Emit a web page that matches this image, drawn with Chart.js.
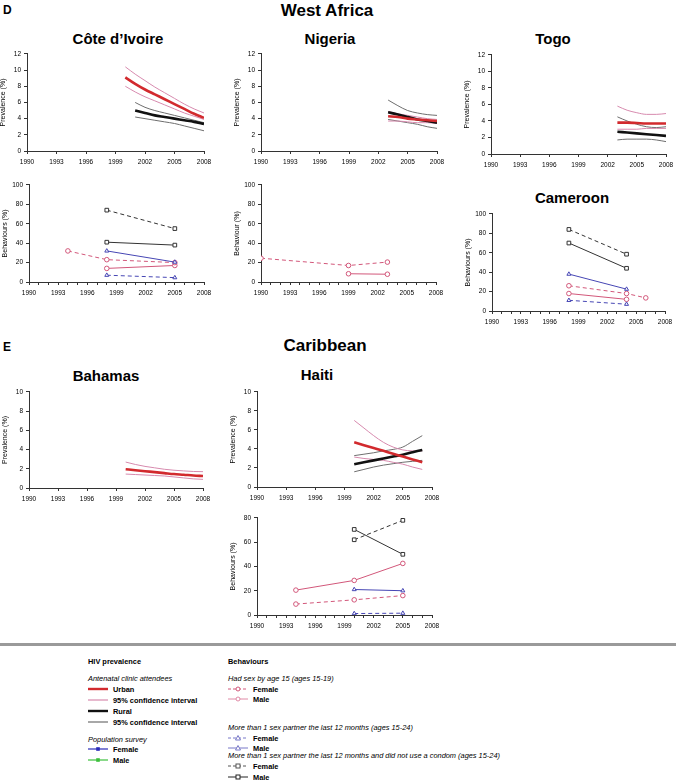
<!DOCTYPE html>
<html><head><meta charset="utf-8">
<script src="https://cdn.jsdelivr.net/npm/chart.js@4/dist/chart.umd.min.js"></script>
<style>
html,body{margin:0;padding:0;background:#fff;}
body{width:676px;height:781px;position:relative;overflow:hidden;font-family:"Liberation Sans",Arial,sans-serif;}
canvas{position:absolute;}
.t{position:absolute;font-weight:bold;color:#000;white-space:nowrap;transform:translate(-50%,-50%);line-height:1;}
.lt{position:absolute;font-weight:bold;color:#000;line-height:1;transform:translateY(-50%);}
svg{position:absolute;left:0;top:0;}
</style></head><body>
<div class="lt" style="left:3px;top:10px;font-size:12px;">D</div>
<div class="t" style="left:327px;top:10px;font-size:17px;">West Africa</div>
<div class="t" style="left:118px;top:38px;font-size:15px;">Côte d’Ivoire</div>
<div class="t" style="left:330px;top:38px;font-size:15px;">Nigeria</div>
<div class="t" style="left:553px;top:38px;font-size:15px;">Togo</div>
<div class="t" style="left:572px;top:197px;font-size:15px;">Cameroon</div>
<div class="lt" style="left:3px;top:347px;font-size:12px;">E</div>
<div class="t" style="left:325px;top:345px;font-size:17px;">Caribbean</div>
<div class="t" style="left:106px;top:375px;font-size:15px;">Bahamas</div>
<div class="t" style="left:317px;top:374px;font-size:15px;">Haiti</div>

<svg width="676" height="781" id="leg"></svg>

<script>
// ---------- DATA ----------
const xTicksMajor = [1990,1993,1996,1999,2002,2005,2008];
const xTicksYearly = [1990,1991,1992,1993,1994,1995,1996,1997,1998,1999,2000,2001,2002,2003,2004,2005,2006,2007,2008];

// Côte d'Ivoire prevalence
const civUrbanYears = [2000,2001,2002,2003,2004,2005,2006,2007,2008];
const civUrban   = [9.1,8.3,7.6,7.0,6.4,5.8,5.2,4.6,4.1];
const civUrbanHi = [10.4,9.5,8.7,7.9,7.2,6.5,5.8,5.2,4.7];
const civUrbanLo = [8.0,7.3,6.7,6.2,5.7,5.2,4.7,4.3,3.9];
const civRuralYears = [2001,2002,2003,2004,2005,2006,2007,2008];
const civRural   = [5.0,4.7,4.4,4.2,4.0,3.8,3.6,3.35];
const civRuralHi = [6.0,5.4,5.0,4.7,4.4,4.1,3.8,3.5];
const civRuralLo = [4.2,4.0,3.8,3.6,3.4,3.1,2.8,2.5];

// Nigeria prevalence
const ngaYears = [2003,2004,2005,2006,2007,2008];
const ngaUrban   = [4.3,4.2,4.0,3.9,3.8,3.7];
const ngaUrbanHi = [4.9,4.6,4.4,4.2,4.0,3.9];
const ngaUrbanLo = [3.7,3.7,3.6,3.5,3.5,3.4];
const ngaRural   = [4.8,4.5,4.2,3.9,3.7,3.5];
const ngaRuralHi = [6.3,5.6,5.0,4.7,4.5,4.4];
const ngaRuralLo = [3.9,3.7,3.5,3.3,3.0,2.8];

// Togo prevalence
const tgoYears = [2003,2004,2005,2006,2007,2008];
const tgoUrban   = [3.8,3.8,3.75,3.7,3.7,3.7];
const tgoUrbanHi = [5.8,5.3,5.0,4.8,4.8,4.9];
const tgoUrbanLo = [3.0,3.0,3.0,3.1,3.1,3.1];
const tgoRural   = [2.7,2.6,2.5,2.4,2.3,2.2];
const tgoRuralHi = [4.5,4.0,3.6,3.3,3.2,3.3];
const tgoRuralLo = [1.7,1.8,1.8,1.8,1.7,1.5];

// Bahamas prevalence
const bhsYears = [2000,2001,2002,2003,2004,2005,2006,2007,2008];
const bhsUrban   = [1.95,1.85,1.75,1.65,1.55,1.45,1.38,1.3,1.25];
const bhsUrbanHi = [2.7,2.45,2.25,2.1,1.95,1.85,1.78,1.72,1.7];
const bhsUrbanLo = [1.45,1.4,1.35,1.3,1.25,1.15,1.05,0.95,0.9];

// Haiti prevalence
const htiYears = [2000,2001,2002,2003,2004,2005,2006,2007];
const htiUrban   = [4.7,4.4,4.1,3.8,3.5,3.2,2.9,2.6];
const htiUrbanHi = [7.0,6.2,5.4,4.7,4.2,3.9,3.8,3.8];
const htiUrbanLo = [3.15,3.0,2.9,2.8,2.6,2.4,2.1,1.85];
const htiRural   = [2.4,2.6,2.8,3.0,3.2,3.4,3.65,3.9];
const htiRuralHi = [3.3,3.45,3.6,3.8,3.95,4.2,4.8,5.4];
const htiRuralLo = [1.6,1.85,2.1,2.3,2.45,2.6,2.7,2.8];

// Behaviours: Côte d'Ivoire
const civSexFYears = [1994,1998,2005], civSexF = [32,23,20];
const civSexMYears = [1998,2005],      civSexM = [14,17];
const civPartYears = [1998,2005];
const civPartF = [7,4.5],  civPartM = [32,20.5];
const civCondF = [74,55],  civCondM = [41,38];

// Behaviours: Nigeria
const ngaSexFYears = [1990,1999,2003], ngaSexF = [24.5,17,20.5];
const ngaSexMYears = [1999,2003],      ngaSexM = [8.5,8];

// Behaviours: Cameroon
const cmrYears = [1998,2004];
const cmrSexFYears = [1998,2004,2006], cmrSexF = [26,18,13.5];
const cmrSexM = [18,12];
const cmrPartF = [11,7], cmrPartM = [38,22.5];
const cmrCondF = [84,58.5], cmrCondM = [70,44];

// Behaviours: Haiti
const htiSexYears = [1994,2000,2005];
const htiSexF = [9,12.5,16], htiSexM = [20.5,28.5,42.5];
const htiBYears = [2000,2005];
const htiPartF = [1.2,1.5], htiPartM = [21,20];
const htiCondF = [62,78], htiCondM = [70.5,50];

// ---------- STYLES ----------
const FF = '"Liberation Sans", Arial, sans-serif';
const C_URB = '#d22a2e', C_URBCI = '#d78aae', C_RUR = '#111111', C_RURCI = '#6e6e6e';
const C_SEX = '#d2577a', C_PART = '#4646b4', C_COND = '#333333';

const pts = (xs, ys) => xs.map((x,i)=>({x, y: ys[i]}));
function prevSets(urbY, urb, hi, lo, rurY, rur, rhi, rlo) {
  const s = [];
  const base = {pointRadius:0, fill:false, cubicInterpolationMode:'monotone'};
  if (urb) s.push({...base, data:pts(urbY,urb), borderColor:C_URB, borderWidth:2.6});
  if (rur) s.push({...base, data:pts(rurY,rur), borderColor:C_RUR, borderWidth:2.6});
  if (urb) { s.push({...base, data:pts(urbY,hi), borderColor:C_URBCI, borderWidth:1});
             s.push({...base, data:pts(urbY,lo), borderColor:C_URBCI, borderWidth:1}); }
  if (rur) { s.push({...base, data:pts(rurY,rhi), borderColor:C_RURCI, borderWidth:1});
             s.push({...base, data:pts(rurY,rlo), borderColor:C_RURCI, borderWidth:1}); }
  return s;
}
function beh(xs, ys, color, style, dashed) {
  return {data:pts(xs,ys), borderColor:color, borderWidth:1, borderDash: dashed?[4,3]:[],
    pointStyle:style, pointRadius: style==='rect'?2.6:2.3, pointBorderColor:color,
    pointBackgroundColor:'#fff', pointBorderWidth:1, tension:0, fill:false};
}

const W = 28, PADT = 6, PADR = 14, XH = 18;
function panel(area, yMax, yStep, yTitle, datasets, xTicks) {
  const c = document.createElement('canvas');
  const w = W + (area.r - area.l) + PADR, h = PADT + (area.b - area.t) + XH;
  c.width = w; c.height = h;
  c.style.left = (area.l - W) + 'px'; c.style.top = (area.t - PADT) + 'px';
  c.style.width = w + 'px'; c.style.height = h + 'px';
  document.body.appendChild(c);
  new Chart(c, {type:'line', data:{datasets}, options:{
    responsive:false, animation:false, devicePixelRatio:1,
    layout:{padding:{top:PADT, right:PADR, left:0, bottom:0}},
    plugins:{legend:{display:false}, tooltip:{enabled:false}},
    scales:{
      x:{type:'linear', min:1990, max:2008,
         afterFit:s=>{s.height = XH;},
         afterBuildTicks:s=>{s.ticks = xTicks.map(v=>({value:v}));},
         ticks:{autoSkip:false, maxRotation:0, padding:4, font:{size:6.5, family:FF}, color:'#000',
                callback:v=>((v-1990)%3===0 ? String(v) : '')},
         grid:{drawOnChartArea:false, drawTicks:true, tickLength:3, color:'#333'},
         border:{color:'#333', width:1}},
      y:{min:0, max:yMax,
         afterFit:s=>{s.width = W;},
         ticks:{stepSize:yStep, padding:3, font:{size:6.5, family:FF}, color:'#000'},
         grid:{drawOnChartArea:false, drawTicks:true, tickLength:3, color:'#333'},
         border:{color:'#333', width:1},
         title:{display:true, text:yTitle, font:{size:7, family:FF}, color:'#000', padding:0}}
    }
  }});
}

// ---------- PANELS ----------
panel({l:27,r:204,t:53,b:151}, 12, 2, 'Prevalence (%)',
  prevSets(civUrbanYears, civUrban, civUrbanHi, civUrbanLo, civRuralYears, civRural, civRuralHi, civRuralLo), xTicksMajor);
panel({l:261,r:437,t:53,b:151}, 12, 2, 'Prevalence (%)',
  prevSets(ngaYears, ngaUrban, ngaUrbanHi, ngaUrbanLo, ngaYears, ngaRural, ngaRuralHi, ngaRuralLo), xTicksMajor);
panel({l:491,r:666,t:54,b:154}, 12, 2, 'Prevalence (%)',
  prevSets(tgoYears, tgoUrban, tgoUrbanHi, tgoUrbanLo, tgoYears, tgoRural, tgoRuralHi, tgoRuralLo), xTicksMajor);

panel({l:29,r:204,t:184,b:282}, 100, 20, 'Behaviours (%)', [
  beh(civPartYears, civCondF, C_COND, 'rect', true),
  beh(civPartYears, civCondM, C_COND, 'rect', false),
  beh(civPartYears, civPartM, C_PART, 'triangle', false),
  beh(civPartYears, civPartF, C_PART, 'triangle', true),
  beh(civSexFYears, civSexF, C_SEX, 'circle', true),
  beh(civSexMYears, civSexM, C_SEX, 'circle', false)], xTicksYearly);
panel({l:261,r:436,t:184,b:282}, 100, 20, 'Behaviour (%)', [
  beh(ngaSexFYears, ngaSexF, C_SEX, 'circle', true),
  beh(ngaSexMYears, ngaSexM, C_SEX, 'circle', false)], xTicksYearly);
panel({l:492,r:665,t:213,b:311}, 100, 20, 'Behaviours (%)', [
  beh(cmrYears, cmrCondF, C_COND, 'rect', true),
  beh(cmrYears, cmrCondM, C_COND, 'rect', false),
  beh(cmrYears, cmrPartM, C_PART, 'triangle', false),
  beh(cmrYears, cmrPartF, C_PART, 'triangle', true),
  beh(cmrSexFYears, cmrSexF, C_SEX, 'circle', true),
  beh(cmrYears, cmrSexM, C_SEX, 'circle', false)], xTicksYearly);

panel({l:29,r:203,t:391,b:488}, 10, 2, 'Prevalence (%)',
  prevSets(bhsYears, bhsUrban, bhsUrbanHi, bhsUrbanLo, null, null, null, null), xTicksMajor);
panel({l:257,r:432,t:391,b:487}, 10, 2, 'Prevalence (%)',
  prevSets(htiYears, htiUrban, htiUrbanHi, htiUrbanLo, htiYears, htiRural, htiRuralHi, htiRuralLo), xTicksMajor);
panel({l:257,r:432,t:517,b:615}, 80, 20, 'Behaviours (%)', [
  beh(htiBYears, htiCondF, C_COND, 'rect', true),
  beh(htiBYears, htiCondM, C_COND, 'rect', false),
  beh(htiBYears, htiPartM, C_PART, 'triangle', false),
  beh(htiBYears, htiPartF, C_PART, 'triangle', true),
  beh(htiSexYears, htiSexF, C_SEX, 'circle', true),
  beh(htiSexYears, htiSexM, C_SEX, 'circle', false)], xTicksYearly);

// ---------- LEGEND ----------
const svg = document.getElementById('leg');
const NS = 'http://www.w3.org/2000/svg';
function el(tag, attrs, text) {
  const e = document.createElementNS(NS, tag);
  for (const k in attrs) e.setAttribute(k, attrs[k]);
  if (text !== undefined) e.textContent = text;
  svg.appendChild(e); return e;
}
el('rect', {x:0, y:643, width:676, height:3, fill:'#9a9a9a'});
function txt(x, y, s, weight, style) {
  el('text', {x, y, 'font-family':'Liberation Sans, Arial, sans-serif', 'font-size':7.4,
    'font-weight':weight||'normal', 'font-style':style||'normal', 'dominant-baseline':'central', fill:'#000'}, s);
}
function sample(x, y, color, width, dash, marker) {
  el('line', {x1:x, y1:y, x2:x+20, y2:y, stroke:color, 'stroke-width':width, 'stroke-dasharray':dash||'none'});
  const cx = x+10;
  if (marker==='circle') el('circle', {cx, cy:y, r:2, fill:'#fff', stroke:color, 'stroke-width':1});
  if (marker==='tri') el('polygon', {points:`${cx},${y-2.5} ${cx+2.5},${y+2} ${cx-2.5},${y+2}`, fill:'#fff', stroke:color, 'stroke-width':1});
  if (marker==='rect') el('rect', {x:cx-2, y:y-2, width:4, height:4, fill:'#fff', stroke:color, 'stroke-width':1});
  if (marker==='fill') el('rect', {x:cx-1.8, y:y-1.8, width:3.6, height:3.6, fill:color});
}
txt(88, 661, 'HIV prevalence', 'bold');
txt(88, 678, 'Antenatal clinic attendees', 'normal', 'italic');
sample(88, 689, C_URB, 2.4); txt(113, 689, 'Urban', 'bold');
sample(88, 700, C_URBCI, 1.2); txt(113, 700, '95% confidence interval', 'bold');
sample(88, 711, C_RUR, 2.4); txt(113, 711, 'Rural', 'bold');
sample(88, 722, C_RURCI, 1.2); txt(113, 722, '95% confidence interval', 'bold');
txt(88, 739, 'Population survey', 'normal', 'italic');
sample(88, 749, '#2a2ab8', 1.2, null, 'fill'); txt(113, 749, 'Female', 'bold');
sample(88, 760, '#3cbf3c', 1.2, null, 'fill'); txt(113, 760, 'Male', 'bold');

txt(228, 661, 'Behaviours', 'bold');
txt(228, 678, 'Had sex by age 15 (ages 15-19)', 'normal', 'italic');
sample(228, 689, C_SEX, 1, '3,2', 'circle'); txt(253, 689, 'Female', 'bold');
sample(228, 699, '#e08aa6', 1, null, 'circle'); txt(253, 699, 'Male', 'bold');
txt(228, 727, 'More than 1 sex partner the last 12 months (ages 15-24)', 'normal', 'italic');
sample(228, 738, '#7878c8', 1, '3,2', 'tri'); txt(253, 738, 'Female', 'bold');
sample(228, 748, '#7878c8', 1, null, 'tri'); txt(253, 748, 'Male', 'bold');
txt(228, 766 - 11, 'More than 1 sex partner the last 12 months and did not use a condom (ages 15-24)', 'normal', 'italic');
sample(228, 766, '#555', 1, '3,2', 'rect'); txt(253, 766, 'Female', 'bold');
sample(228, 777, '#222', 1, null, 'rect'); txt(253, 777, 'Male', 'bold');
</script>
</body></html>
